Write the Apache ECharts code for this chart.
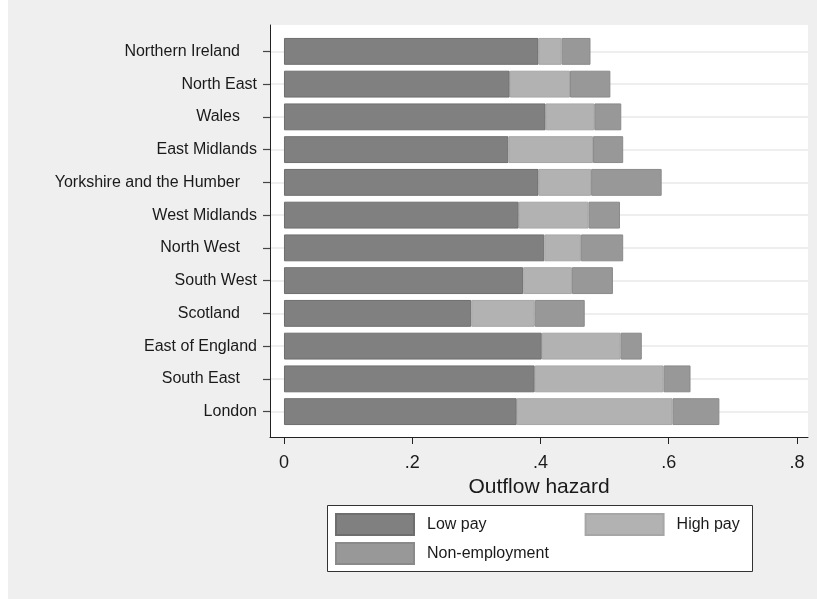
<!DOCTYPE html>
<html>
<head>
<meta charset="utf-8">
<script src="https://cdn.jsdelivr.net/npm/echarts@6/dist/echarts.min.js"></script>
<style>
  body { margin: 0; background: #fff; }
  #main { width: 817px; height: 599px; }
</style>
</head>
<body>
<div id="main"></div>
<script>
const regions = ['Northern Ireland', 'North East', 'Wales', 'East Midlands', 'Yorkshire and the Humber',
  'West Midlands', 'North West', 'South West', 'Scotland', 'East of England', 'South East', 'London'];
const lowPay = [0.397, 0.352, 0.408, 0.350, 0.397, 0.366, 0.406, 0.373, 0.292, 0.402, 0.391, 0.363];
const highPay = [0.036, 0.094, 0.076, 0.132, 0.082, 0.109, 0.057, 0.076, 0.099, 0.123, 0.201, 0.243];
const nonEmployment = [0.045, 0.063, 0.042, 0.047, 0.110, 0.049, 0.066, 0.064, 0.078, 0.033, 0.042, 0.073];
const xTicks = [0, 0.2, 0.4, 0.6, 0.8];
const xTickLabels = ['0', '.2', '.4', '.6', '.8'];

const font = '"Liberation Sans", Arial, sans-serif';
const ink = '#1a1a1a';

// plot spans a little past 0 and .8 on each side, like the stata graph
const xMin = -0.0218;
const xMax = 0.8172;

const MyChart = echarts.init(document.getElementById('main'));

function bar(name, data, color, border) {
  return {
    name: name,
    type: 'bar',
    stack: 'total',
    xAxisIndex: 1,
    yAxisIndex: 1,
    barCategoryGap: '18%',
    itemStyle: { color: color, borderColor: border, borderWidth: 1 },
    data: data
  };
}

function legend(names, top) {
  return {
    data: names,
    left: 335,
    top: top,
    padding: 0,
    itemWidth: 78,
    itemHeight: 21,
    itemGap: 98,
    icon: 'rect',
    selectedMode: false,
    textStyle: { fontSize: 16, color: ink, fontFamily: font, padding: [0, 0, 0, 8] }
  };
}

const option = {
  backgroundColor: '#efefef',
  textStyle: { fontFamily: font },
  graphic: [
    { type: 'rect', shape: { x: 0, y: 0, width: 8, height: 599 }, style: { fill: '#fff' } },
    { type: 'rect', shape: { x: 327.5, y: 505.5, width: 425, height: 66 }, style: { fill: '#fff', stroke: '#333', lineWidth: 1 } }
  ],
  grid: [
    // white plot region with the axis frame
    { left: 270, top: 25, width: 538, height: 412, show: true, backgroundColor: '#fff', borderWidth: 0 },
    // bars
    { left: 270, top: 35, width: 538, height: 393 }
  ],
  legend: [
    legend(['Low pay', 'High pay'], 513),
    legend(['Non-employment'], 542)
  ],
  xAxis: [
    {
      gridIndex: 0,
      type: 'value',
      min: xMin,
      max: xMax,
      name: 'Outflow hazard',
      nameLocation: 'middle',
      nameGap: 35,
      nameTextStyle: { fontSize: 21, color: ink, fontFamily: font },
      axisLine: { show: true, onZero: false, lineStyle: { color: '#222', width: 1 } },
      axisTick: { show: true, length: 7, customValues: xTicks, lineStyle: { color: '#222' } },
      axisLabel: {
        customValues: xTicks,
        margin: 17,
        fontSize: 18,
        color: ink,
        fontFamily: font,
        formatter: function (v) {
          const i = xTicks.indexOf(v);
          return i >= 0 ? xTickLabels[i] : '';
        }
      },
      splitLine: { show: false }
    },
    { gridIndex: 1, type: 'value', min: xMin, max: xMax, show: false }
  ],
  yAxis: [
    {
      gridIndex: 0,
      type: 'value',
      min: 0,
      max: 1,
      axisLine: { show: true, onZero: false, lineStyle: { color: '#222', width: 1 } },
      axisTick: { show: false },
      axisLabel: { show: false },
      splitLine: { show: false }
    },
    {
      gridIndex: 1,
      type: 'category',
      inverse: true,
      data: regions,
      axisLine: { show: false, onZero: false },
      axisTick: { show: true, length: 7, alignWithLabel: true, lineStyle: { color: '#444', width: 1.2 } },
      axisLabel: {
        margin: 13,
        interval: 0,
        fontSize: 16,
        color: ink,
        fontFamily: font,
        formatter: function (v, i) {
          return i % 2 === 0 ? '{a|' + v + '}' : '{b|' + v + '}';
        },
        rich: {
          a: { fontSize: 16, color: ink, fontFamily: font, padding: [0, 17, 0, 0] },
          b: { fontSize: 16, color: ink, fontFamily: font }
        }
      },
      splitLine: { show: true, alignWithLabel: true, lineStyle: { color: '#e9e9e9', width: 1.5 } }
    }
  ],
  series: [
    bar('Low pay', lowPay, '#808080', '#6e6e6e'),
    bar('High pay', highPay, '#b2b2b2', '#a6a6a6'),
    bar('Non-employment', nonEmployment, '#989898', '#8a8a8a')
  ]
};

MyChart.setOption(option);
</script>
</body>
</html>
